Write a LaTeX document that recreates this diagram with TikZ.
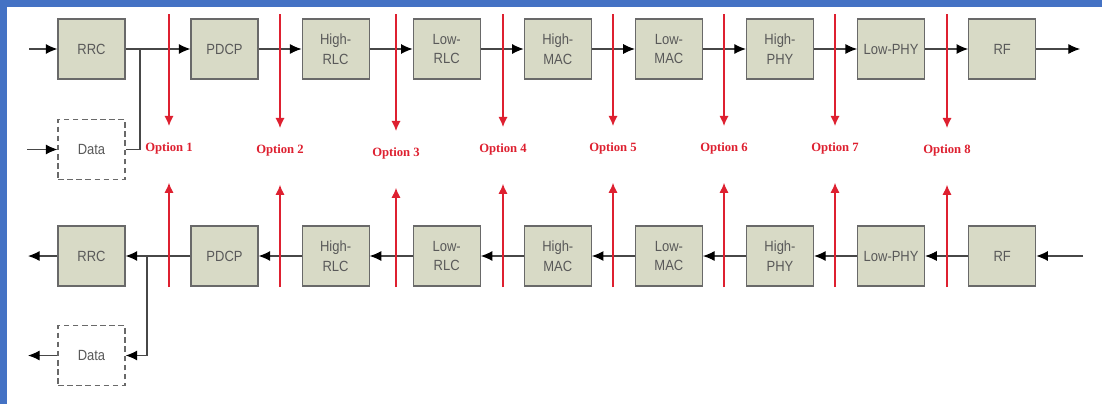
\documentclass[tikz,border=0pt]{standalone}
\usepackage{fontspec}
\usetikzlibrary{arrows.meta}
\newfontfamily\blkfont[FakeStretch=0.88]{Liberation Sans}
\newfontfamily\optfont{Liberation Serif}
\definecolor{blkfill}{RGB}{216,218,198}
\definecolor{blkline}{RGB}{105,105,105}
\definecolor{optred}{RGB}{222,32,48}
\definecolor{frameblue}{RGB}{68,114,196}
\begin{document}
\begin{tikzpicture}[
  blk/.style={draw=blkline, fill=blkfill, line width=0.8pt, minimum width=1.675cm, minimum height=1.5cm, inner sep=2pt, align=center, text=black!65, font=\blkfont\fontsize{10.5}{14}\selectfont},
  datablk/.style={blk, fill=white, dash pattern=on 4pt off 2.5pt},
  link/.style={draw=black!72, line width=0.8pt},
  flow/.style={link, -{Latex[length=2.9mm,width=2.5mm,color=black]}},
  opt/.style={draw=optred, line width=1pt, -{Latex[length=2.5mm,width=2.3mm]}},
  optdown/.style={opt, shorten >=0.4cm},
  optup/.style={opt, shorten >=0.72cm},
  optlabel/.style={inner sep=0pt, text=optred, font=\optfont\bfseries\fontsize{9}{10}\selectfont}
]
\fill[white] (0,0) rectangle (27.55,-10.1);
\fill[frameblue] (0,0) rectangle (27.55,-0.175);
\fill[frameblue] (0,0) rectangle (0.175,-10.1);
\useasboundingbox (0,0) rectangle (27.55,-10.1);

\node[blk] (rrcT) at (2.2875,-1.225) {RRC};
\node[blk] (pdcpT) at (5.6125,-1.225) {PDCP};
\node[blk] (hrlcT) at (8.39,-1.225) {High-\\RLC};
\node[blk] (lrlcT) at (11.1675,-1.225) {Low-\\RLC};
\node[blk] (hmacT) at (13.945,-1.225) {High-\\MAC};
\node[blk] (lmacT) at (16.7225,-1.225) {Low-\\MAC};
\node[blk] (hphyT) at (19.5,-1.225) {High-\\PHY};
\node[blk] (lphyT) at (22.2775,-1.225) {Low-PHY};
\node[blk] (rfT) at (25.055,-1.225) {RF};
\node[datablk] (dataT) at (2.2875,-3.7375) {Data};

\node[blk] (rrcB) at (2.2875,-6.4) {RRC};
\node[blk] (pdcpB) at (5.6125,-6.4) {PDCP};
\node[blk] (hrlcB) at (8.39,-6.4) {High-\\RLC};
\node[blk] (lrlcB) at (11.1675,-6.4) {Low-\\RLC};
\node[blk] (hmacB) at (13.945,-6.4) {High-\\MAC};
\node[blk] (lmacB) at (16.7225,-6.4) {Low-\\MAC};
\node[blk] (hphyB) at (19.5,-6.4) {High-\\PHY};
\node[blk] (lphyB) at (22.2775,-6.4) {Low-PHY};
\node[blk] (rfB) at (25.055,-6.4) {RF};
\node[datablk] (dataB) at (2.2875,-8.8875) {Data};

\coordinate (inT) at (0.725,-1.225);
\coordinate (inD) at (0.675,-3.7375);
\coordinate (outT) at (27.0,-1.225);
\coordinate (jT) at (3.5,-1.225);
\coordinate (inB) at (27.075,-6.4);
\coordinate (outB) at (0.7,-6.4);
\coordinate (outD) at (0.7,-8.8875);
\coordinate (jB) at (3.675,-6.4);

\draw[flow] (inT) -- (rrcT);
\draw[flow] (inD) -- (dataT);
\draw[link] (rrcT) -- (jT);
\draw[link] (dataT.east) -| (jT);
\draw[flow] (jT) -- (pdcpT);
\draw[flow] (pdcpT) -- (hrlcT);
\draw[flow] (hrlcT) -- (lrlcT);
\draw[flow] (lrlcT) -- (hmacT);
\draw[flow] (hmacT) -- (lmacT);
\draw[flow] (lmacT) -- (hphyT);
\draw[flow] (hphyT) -- (lphyT);
\draw[flow] (lphyT) -- (rfT);
\draw[flow] (rfT) -- (outT);

\draw[flow] (inB) -- (rfB);
\draw[flow] (rfB) -- (lphyB);
\draw[flow] (lphyB) -- (hphyB);
\draw[flow] (hphyB) -- (lmacB);
\draw[flow] (lmacB) -- (hmacB);
\draw[flow] (hmacB) -- (lrlcB);
\draw[flow] (lrlcB) -- (hrlcB);
\draw[flow] (hrlcB) -- (pdcpB);
\draw[link] (pdcpB) -- (jB);
\draw[flow] (jB) -- (rrcB);
\draw[flow] (jB) |- (dataB);
\draw[flow] (rrcB) -- (outB);
\draw[flow] (dataB) -- (outD);

\node[optlabel] (o1) at (4.225,-3.7) {Option 1};
\node[optlabel] (o2) at (7.0,-3.75) {Option 2};
\node[optlabel] (o3) at (9.9,-3.825) {Option 3};
\node[optlabel] (o4) at (12.575,-3.725) {Option 4};
\node[optlabel] (o5) at (15.325,-3.7) {Option 5};
\node[optlabel] (o6) at (18.1,-3.7) {Option 6};
\node[optlabel] (o7) at (20.875,-3.7) {Option 7};
\node[optlabel] (o8) at (23.675,-3.75) {Option 8};

\coordinate (o1a) at (4.225,-0.35);   \coordinate (o1b) at (4.225,-7.175);
\coordinate (o2a) at (7.0,-0.35);     \coordinate (o2b) at (7.0,-7.175);
\coordinate (o3a) at (9.9,-0.35);     \coordinate (o3b) at (9.9,-7.175);
\coordinate (o4a) at (12.575,-0.35);  \coordinate (o4b) at (12.575,-7.175);
\coordinate (o5a) at (15.325,-0.35);  \coordinate (o5b) at (15.325,-7.175);
\coordinate (o6a) at (18.1,-0.35);    \coordinate (o6b) at (18.1,-7.175);
\coordinate (o7a) at (20.875,-0.35);  \coordinate (o7b) at (20.875,-7.175);
\coordinate (o8a) at (23.675,-0.35);  \coordinate (o8b) at (23.675,-7.175);

\draw[optdown] (o1a) -- (o1);  \draw[optup] (o1b) -- (o1);
\draw[optdown] (o2a) -- (o2);  \draw[optup] (o2b) -- (o2);
\draw[optdown] (o3a) -- (o3);  \draw[optup] (o3b) -- (o3);
\draw[optdown] (o4a) -- (o4);  \draw[optup] (o4b) -- (o4);
\draw[optdown] (o5a) -- (o5);  \draw[optup] (o5b) -- (o5);
\draw[optdown] (o6a) -- (o6);  \draw[optup] (o6b) -- (o6);
\draw[optdown] (o7a) -- (o7);  \draw[optup] (o7b) -- (o7);
\draw[optdown] (o8a) -- (o8);  \draw[optup] (o8b) -- (o8);
\end{tikzpicture}
\end{document}
